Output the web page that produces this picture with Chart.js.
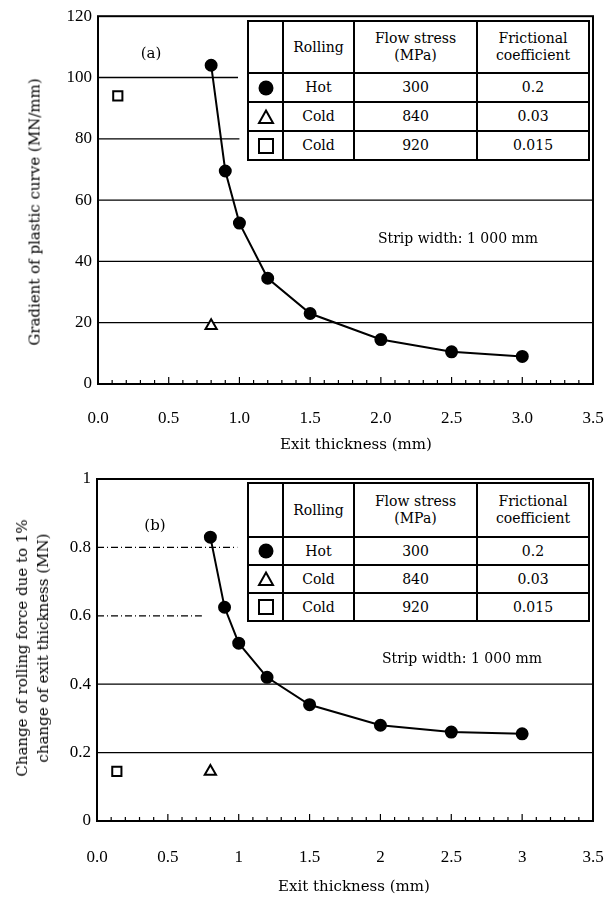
<!DOCTYPE html>
<html>
<head>
<meta charset="utf-8">
<script src="https://cdn.jsdelivr.net/npm/chart.js@4/dist/chart.umd.min.js"></script>
<style>
    body { margin: 0; background: #fff; width: 607px; height: 901px; position: relative; overflow: hidden; font-family: "DejaVu Serif", serif; color: #000; }
    .box { position: absolute; left: 0; width: 607px; }
    .lbl { position: absolute; white-space: nowrap; font-size: 14px; transform: translate(-50%, -50%); }
    .ytitle { position: absolute; white-space: nowrap; transform: translate(-50%, -50%) rotate(-90deg); text-align: center; font-size: 15px; line-height: 21px; }
    table.legend { position: absolute; border-collapse: collapse; background: #fff; font-size: 14px; text-align: center; }
    table.legend td { border: 2px solid #000; padding: 0; line-height: 17px; }
    table.legend td svg { display: block; margin: 0 auto; }
</style>
</head>
<body>

<div class="box" style="top:0;height:450px"><canvas id="chartA"></canvas></div>
<div class="box" style="top:460px;height:441px"><canvas id="chartB"></canvas></div>

<div class="ytitle" style="left:35px;top:212px">Gradient of plastic curve (MN/mm)</div>
<div class="ytitle" style="left:33px;top:648px">Change of rolling force due to 1%<br>change of exit thickness (MN)</div>
<div class="lbl" style="left:356px;top:444px;font-size:15px">Exit thickness (mm)</div>
<div class="lbl" style="left:354px;top:886px;font-size:15px">Exit thickness (mm)</div>
<div class="lbl" style="left:151px;top:53px;font-size:15px">(a)</div>
<div class="lbl" style="left:155px;top:525px;font-size:15px">(b)</div>
<div class="lbl" style="left:458px;top:238px">Strip width: 1 000 mm</div>
<div class="lbl" style="left:462px;top:658px">Strip width: 1 000 mm</div>

<script>
// Data
const thickness = [0.8, 0.9, 1.0, 1.2, 1.5, 2.0, 2.5, 3.0];
const gradientHot = [104, 69.5, 52.5, 34.5, 23, 14.5, 10.5, 9];
const forceHot = [0.83, 0.625, 0.52, 0.42, 0.34, 0.28, 0.26, 0.255];

const triThickness = [0.8];
const gradientTri = [19];
const forceTri = [0.145];

const sqThickness = [0.14];
const gradientSq = [94];
const forceSq = [0.145];

const xTicksA = ['0.0', '0.5', '1.0', '1.5', '2.0', '2.5', '3.0', '3.5'];
const xTicksB = ['0.0', '0.5', '1', '1.5', '2', '2.5', '3', '3.5'];
const yTicksA = ['0', '20', '40', '60', '80', '100', '120'];
const yTicksB = ['0', '0.2', '0.4', '0.6', '0.8', '1'];

// legend table
const legendRolling = ['Hot', 'Cold', 'Cold'];
const legendStress = ['300', '840', '920'];
const legendFriction = ['0.2', '0.03', '0.015'];

const symbolSvg = [
    '<svg width="18" height="18"><circle cx="9" cy="9" r="7.5" fill="#000"/></svg>',
    '<svg width="18" height="18"><polygon points="9,2.5 16,15 2,15" fill="none" stroke="#000" stroke-width="2"/></svg>',
    '<svg width="18" height="18"><rect x="2" y="2" width="14" height="14" fill="none" stroke="#000" stroke-width="2"/></svg>'
];

function buildTable(left, top, headH, rowH) {
    const t = document.createElement('table');
    t.className = 'legend';
    t.style.left = left + 'px';
    t.style.top = top + 'px';
    let html = `<tr style="height:${headH}px"><td style="width:33px"></td><td style="width:69px">Rolling</td>
        <td style="width:121px">Flow stress<br>(MPa)</td><td style="width:110px">Frictional<br>coefficient</td></tr>`;
    legendRolling.forEach((r, i) => {
        html += `<tr style="height:${rowH}px"><td>${symbolSvg[i]}</td><td>${r}</td>
            <td>${legendStress[i]}</td><td>${legendFriction[i]}</td></tr>`;
    });
    t.innerHTML = html;
    document.body.appendChild(t);
}
buildTable(247, 20, 52, 29);
buildTable(247, 482, 54, 28);

const toPts = (xs, ys) => xs.map((x, i) => ({ x, y: ys[i] }));

// grid lines that stop at the table, minor ticks and frame
const frameGrid = {
    id: 'frameGrid',
    beforeDatasetsDraw(chart, args, o) {
        const { ctx, chartArea: a, scales: { x, y } } = chart;
        ctx.save();
        ctx.strokeStyle = '#000';
        o.lines.forEach(l => {
            ctx.lineWidth = 1.3;
            ctx.setLineDash(l.dash || []);
            const py = y.getPixelForValue(l.value);
            ctx.beginPath();
            ctx.moveTo(a.left, py);
            ctx.lineTo(x.getPixelForValue(l.end), py);
            ctx.stroke();
        });
        ctx.setLineDash([]);
        ctx.lineWidth = 1.2;
        for (let i = 0; i <= 35; i++) {
            const px = x.getPixelForValue(i / 10);
            const len = i % 5 ? 4 : 7;
            ctx.beginPath();
            ctx.moveTo(px, a.bottom);
            ctx.lineTo(px, a.bottom - len);
            ctx.stroke();
        }
        ctx.lineWidth = 2;
        ctx.strokeRect(a.left, a.top, a.width, a.height);
        ctx.restore();
    }
};

function makeChart(id, cfg) {
    const tickFont = { family: 'Liberation Serif', size: 17 };
    return new Chart(document.getElementById(id), {
        type: 'scatter',
        data: {
            datasets: [
                {
                    data: cfg.hot, showLine: true, borderColor: '#000', borderWidth: 2,
                    pointStyle: 'circle', pointRadius: 5.5, pointBackgroundColor: '#000', pointBorderColor: '#000'
                },
                {
                    data: cfg.tri, pointStyle: 'triangle', pointRadius: 6.5, pointBorderWidth: 2,
                    pointBackgroundColor: '#fff', pointBorderColor: '#000'
                },
                {
                    data: cfg.sq, pointStyle: 'rect', pointRadius: 6.5, pointBorderWidth: 2,
                    pointBackgroundColor: '#fff', pointBorderColor: '#000'
                }
            ]
        },
        options: {
            responsive: true,
            maintainAspectRatio: false,
            animation: false,
            layout: { padding: { top: cfg.padTop, right: 14, left: 0, bottom: 0 } },
            plugins: {
                legend: { display: false },
                tooltip: { enabled: false },
                frameGrid: { lines: cfg.lines }
            },
            scales: {
                x: {
                    type: 'linear', min: 0, max: 3.5,
                    // invisible tick marks give the gap between axis and labels
                    grid: { display: true, drawOnChartArea: false, drawTicks: true, tickLength: cfg.xGap, color: 'rgba(0,0,0,0)' },
                    border: { display: false },
                    ticks: { stepSize: 0.5, color: '#000', font: tickFont, padding: 0,
                        callback: (v, i) => cfg.xTicks[i] },
                    afterFit: s => { s.height = cfg.xHeight; }
                },
                y: {
                    type: 'linear', min: 0, max: cfg.yMax,
                    grid: { display: false, drawTicks: false }, border: { display: false },
                    ticks: { stepSize: cfg.yStep, color: '#000', font: tickFont, padding: 6,
                        callback: (v, i) => cfg.yTicks[i] },
                    afterFit: s => { s.width = cfg.yWidth; }
                }
            }
        },
        plugins: [frameGrid]
    });
}

makeChart('chartA', {
    hot: toPts(thickness, gradientHot),
    tri: toPts(triThickness, gradientTri),
    sq: toPts(sqThickness, gradientSq),
    xTicks: xTicksA, yTicks: yTicksA, yMax: 120, yStep: 20,
    padTop: 15, xHeight: 66, yWidth: 98, xGap: 24,
    lines: [
        { value: 20, end: 3.5 }, { value: 40, end: 3.5 }, { value: 60, end: 3.5 },
        { value: 80, end: 1.0 }, { value: 100, end: 0.99 }
    ]
});

makeChart('chartB', {
    hot: toPts(thickness, forceHot),
    tri: toPts(triThickness, forceTri),
    sq: toPts(sqThickness, forceSq),
    xTicks: xTicksB, yTicks: yTicksB, yMax: 1, yStep: 0.2,
    padTop: 19, xHeight: 80, yWidth: 97, xGap: 26,
    lines: [
        { value: 0.2, end: 3.5 }, { value: 0.4, end: 3.5 },
        { value: 0.6, end: 0.74, dash: [7, 3, 1, 3] }, { value: 0.8, end: 0.99, dash: [7, 3, 1, 3] }
    ]
});
</script>
</body>
</html>
